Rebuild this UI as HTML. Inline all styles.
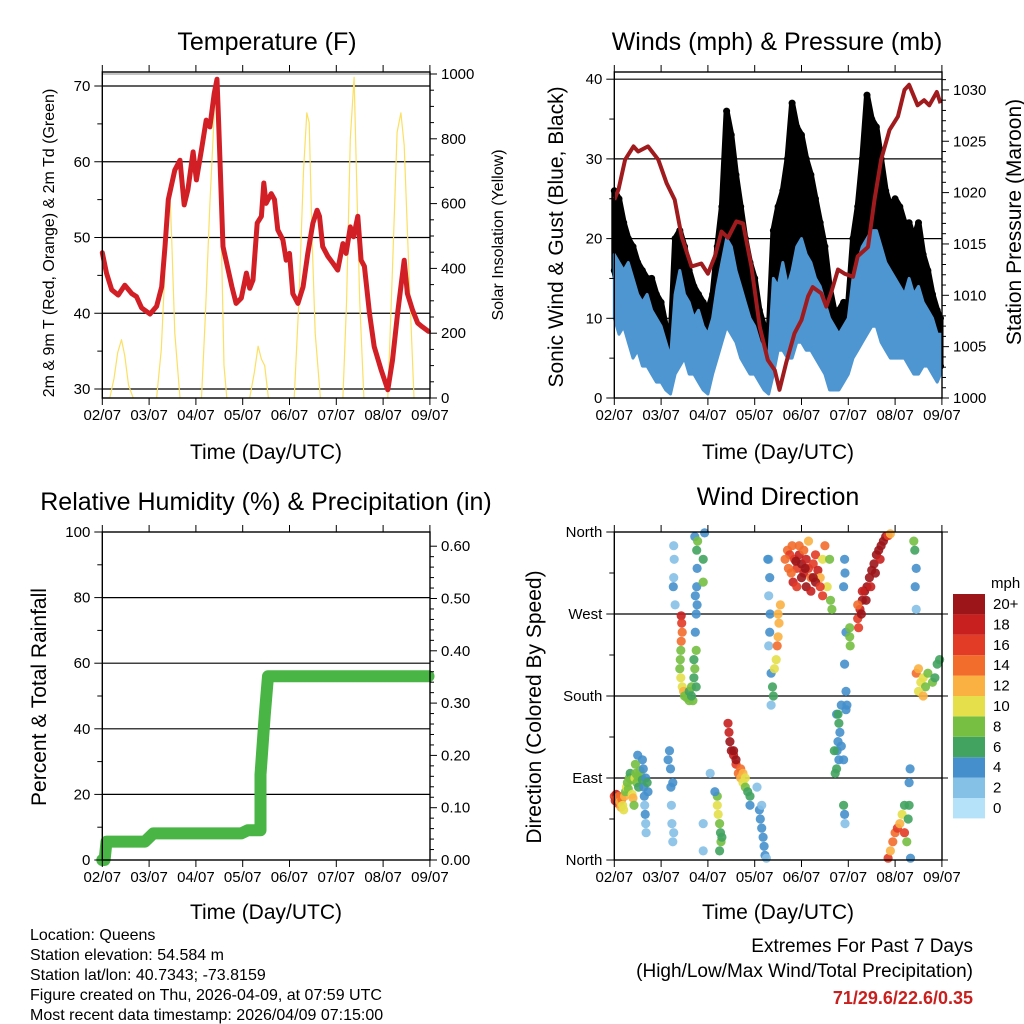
<!DOCTYPE html>
<html><head><meta charset="utf-8"><style>
body{margin:0;background:#fff;}
svg{display:block;font-family:"Liberation Sans",Arial,sans-serif;}
</style></head><body>
<svg id="s" width="1024" height="1024" viewBox="0 0 1024 1024" xmlns="http://www.w3.org/2000/svg">
<rect width="1024" height="1024" fill="#fff"/>
<text x="267" y="50" font-size="25" text-anchor="middle">Temperature (F)</text>
<text x="777" y="50" font-size="25" text-anchor="middle">Winds (mph) &amp; Pressure (mb)</text>
<text x="266" y="510" font-size="25" text-anchor="middle">Relative Humidity (%) &amp; Precipitation (in)</text>
<text x="778" y="505" font-size="25" text-anchor="middle">Wind Direction</text>
<text x="266" y="459" font-size="21" text-anchor="middle">Time (Day/UTC)</text>
<text x="778" y="459" font-size="21" text-anchor="middle">Time (Day/UTC)</text>
<text x="266" y="919" font-size="21" text-anchor="middle">Time (Day/UTC)</text>
<text x="778" y="919" font-size="21" text-anchor="middle">Time (Day/UTC)</text>
<text transform="translate(54,243) rotate(-90)" font-size="16" text-anchor="middle">2m &amp; 9m T (Red, Orange) &amp; 2m Td (Green)</text>
<text transform="translate(503,235) rotate(-90)" font-size="16" text-anchor="middle">Solar Insolation (Yellow)</text>
<text transform="translate(563,237) rotate(-90)" font-size="21" text-anchor="middle">Sonic Wind &amp; Gust (Blue, Black)</text>
<text transform="translate(1021,222) rotate(-90)" font-size="21" text-anchor="middle">Station Pressure (Maroon)</text>
<text transform="translate(46,697) rotate(-90)" font-size="21" text-anchor="middle">Percent &amp; Total Rainfall</text>
<text transform="translate(541,707) rotate(-90)" font-size="21" text-anchor="middle">Direction (Colored By Speed)</text>
<g font-size="16">
<text x="30" y="940">Location: Queens</text>
<text x="30" y="960">Station elevation: 54.584 m</text>
<text x="30" y="980">Station lat/lon: 40.7343; -73.8159</text>
<text x="30" y="1000">Figure created on Thu, 2026-04-09, at 07:59 UTC</text>
<text x="30" y="1020">Most recent data timestamp: 2026/04/09 07:15:00</text>
</g>
<g font-size="19" text-anchor="end">
<text x="973" y="952">Extremes For Past 7 Days</text>
<text x="973" y="977">(High/Low/Max Wind/Total Precipitation)</text>
<text x="973" y="1004" fill="#c8201e" font-weight="bold" font-size="18">71/29.6/22.6/0.35</text>
</g>
<g id="layer"></g>
</svg>
<script>
const days=["02/07","03/07","04/07","05/07","06/07","07/07","08/07","09/07"];
const tempDay=[0,.09,.2,.34,.48,.63,.73,.84,1.02,1.16,1.27,1.34,1.41,1.55,1.66,1.75,1.83,1.94,2.01,2.12,2.22,2.3,2.39,2.45,2.49,2.58,2.69,2.77,2.86,2.97,3.08,3.15,3.22,3.31,3.4,3.45,3.5,3.61,3.68,3.75,3.86,3.93,4.0,4.07,4.18,4.29,4.39,4.5,4.59,4.64,4.71,4.82,4.93,5.03,5.14,5.21,5.3,5.37,5.46,5.53,5.6,5.71,5.81,5.96,6.1,6.2,6.31,6.38,6.45,6.52,6.63,6.74,6.84,6.97];
const tempVal=[48,45.3,43.1,42.4,43.7,42.6,42.2,40.7,39.9,40.9,43.5,48.8,55,58.9,60.2,54.3,56.3,61.3,57.6,61.6,65.5,64.6,69,70.9,64.6,48.8,45.7,43.5,41.3,42,45.3,43.3,44.4,51.9,52.8,57.2,54.5,55.8,55,51,49.7,47,47.9,42.6,41.3,43.5,47.9,51.9,53.6,52.8,48.8,47.5,46.6,45.7,49.2,47.9,51.4,50.1,52.8,47,46.2,40,35.6,32.5,29.9,33.8,40,43.5,47,42.6,40.4,38.7,38.2,37.6];
const solarDay=[0.16,.25,.33,.41,.48,.56,.66, 1.16,1.26,1.34,1.4,1.44,1.48,1.55,1.66, 2.12,2.2,2.3,2.4,2.44,2.47,2.55,2.6,2.66, 3.15,3.25,3.33,3.4,3.47,3.55, 4.1,4.2,4.3,4.37,4.42,4.48,4.55,4.66, 5.14,5.22,5.3,5.38,5.42,5.5,5.59, 6.1,6.2,6.3,6.38,6.45,6.55,6.66];
const solarVal=[0,60,140,180,130,40,0, 0,150,400,560,650,500,200,0, 0,250,600,900,950,800,450,100,0, 0,80,160,120,100,0, 0,300,700,880,850,500,200,0, 0,300,800,990,750,300,0, 0,400,820,880,780,400,0];
const presDay=[0,.09,.23,.41,.51,.72,.94,1.12,1.29,1.44,1.65,1.86,2.0,2.15,2.29,2.43,2.61,2.75,2.93,3.11,3.28,3.43,3.53,3.67,3.85,4.0,4.14,4.24,4.42,4.53,4.63,4.78,4.92,5.1,5.2,5.42,5.56,5.7,5.88,6.06,6.2,6.3,6.48,6.62,6.73,6.89,6.97];
const presVal=[1019.3,1020.3,1023.2,1024.5,1024,1024.5,1023.2,1020.9,1019.3,1015.7,1012.8,1013.1,1012.1,1013.8,1016.2,1015.6,1017.2,1017,1012.8,1006.9,1003.7,1002.7,1000.8,1003.4,1006.3,1007.6,1009.9,1010.8,1010.2,1008.9,1010.2,1012.5,1012.1,1011.8,1013.8,1014.7,1019.3,1023.2,1026.1,1027.4,1030,1030.5,1028.5,1029,1028.5,1029.8,1028.7];
const windDay=[0,.1,.2,.3,.4,.5,.6,.7,.8,.9,1,1.1,1.2,1.3,1.4,1.5,1.6,1.7,1.8,1.9,2,2.1,2.2,2.3,2.4,2.5,2.6,2.7,2.8,2.9,3,3.1,3.2,3.3,3.4,3.5,3.6,3.7,3.8,3.9,4,4.1,4.2,4.3,4.4,4.5,4.6,4.7,4.8,4.9,5,5.1,5.2,5.3,5.4,5.5,5.6,5.7,5.8,5.9,6,6.1,6.2,6.3,6.4,6.5,6.6,6.7,6.8,6.9,6.97];
const windLow=[10,8,9,7,5,6,4,4,3,2,2,1,.5,3,4,5,3,3,2,1,.5,3,5,7,9,8,7,5,4,3,3,2,1,.5,3,6,6,5,5,7,7,6,6,5,4,3,1,1,1,2,3,5,6,7,8,9,9,7,6,5,5,5,5,4,3,3,4,4,3,2,3];
const windHigh=[18,17,16,17,15,13,12,13,11,10,9,7,5,13,16,13,12,10,11,9,8,10,14,17,20,19,16,14,12,10,9,7,6,5,15,14,17,14,16,19,20,18,17,15,14,12,10,9,8,9,10,15,17,19,20,21,21,19,17,16,15,14,13,15,13,14,12,11,10,8,8];
const gustLow=[16,13,12,11,10,8,7,7,6,5,4,3,2,6,9,10,7,6,5,4,3,6,9,12,15,14,12,10,8,6,5,4,3,2,6,10,11,12,13,15,15,13,12,11,9,7,6,6,6,6,6,10,12,14,16,17,17,16,14,13,12,12,12,10,9,9,8,7,6,4,4];
const gustHigh=[26,25,22,20,19,17,16,15,15,13,12,9,7,20,21,19,16,14,13,12,11,13,19,24,36,33,28,24,20,17,15,11,9,8,21,24,26,30,37,34,33,30,28,25,22,19,14,11,11,12,12,20,24,30,38,35,34,30,26,24,25,24,22,22,20,22,18,16,13,11,10];
const precipDay=[0,.05,.09,.91,1.09,2.97,3.11,3.38,3.38,3.38,3.47,3.54,6.97];
const precipVal=[0,0,5.6,5.6,8.1,8.1,9.1,9.1,15,26,44,56,56];
const dirDay=[0,.02,.04,.06,.08,.1,.12,.14,.16,.18,.2,.22,.24,.26,.28,.3,.32,.34,.36,.38,.4,.42,.44,.46,.48,.5,.52,.55,.58,.6,.62,.63,.64,.65,.66,.67,.68,.67,.6,.5,.45,.7,.72,
1.18,1.2,1.21,1.22,1.23,1.25,1.15,1.25,1.27,1.27,1.28,1.27,1.26,1.3,
1.43,1.44,1.45,1.43,1.42,1.41,1.4,1.42,1.45,1.48,1.5,1.55,1.6,1.65,1.7,1.68,1.75,1.72,1.7,1.75,1.73,1.75,1.77,1.76,1.77,1.76,1.72,1.78,1.73,1.6,1.65,1.93,1.9,1.9,
2.43,2.45,2.47,2.5,2.55,2.6,2.65,2.7,2.75,2.8,2.85,2.9,2.9,2.55,2.6,2.7,2.75,2.8,
2.2,2.22,2.25,2.27,2.28,2.25,2.2,2.3,2.15,2.05,1.9,1.9,
3.1,3.12,3.15,3.18,3.2,3.22,3.25,3.15,3.05,
3.3,3.32,3.3,3.33,3.32,3.3,3.35,3.38,3.35,3.4,3.28,
3.5,3.52,3.5,3.48,3.46,3.42,3.55,
3.7,3.75,3.8,3.85,3.9,3.95,4.0,4.05,4.1,4.15,4.2,4.25,4.3,4.35,4.4,4.45,4.5,4.55,4.6,4.62,4.65,3.65,3.72,3.82,3.9,4.0,4.1,4.2,4.3,4.4,3.95,4.05,4.15,4.45,3.78,3.88,4.08,4.25,
4.92,4.93,4.9,4.95,4.92,4.95,4.97,4.95,5.03,5.04,5.03,
4.75,4.8,4.82,4.78,4.76,4.8,4.75,4.72,4.85,4.78,4.85,4.7,4.9,4.92,4.93,4.9,
5.2,5.25,5.3,5.35,5.4,5.45,5.5,5.55,5.6,5.65,5.7,5.75,5.8,5.85,5.9,5.28,5.38,5.48,5.58,5.68,5.2,5.22,5.3,
6.4,6.42,6.45,6.43,6.45,
6.45,6.5,6.55,6.6,6.65,6.7,6.5,6.8,6.85,6.9,6.95,6.6,
5.85,5.9,5.95,6.0,6.05,6.1,6.15,6.2,6.25,6.3,6.32,6.3,6.28,6.33,6.2];
const dirVal=[70,65,72,68,62,70,64,58,67,60,55,70,75,80,85,78,90,95,88,72,68,60,90,95,85,92,80,98,92,88,100,80,70,60,50,40,30,90,110,115,105,85,75,
120,100,80,60,40,20,110,85,30,345,330,310,300,280,
268,260,250,240,230,220,210,200,190,185,180,178,185,190,200,175,190,210,220,230,250,270,280,300,320,340,355,350,290,175,180,359,330,305,
150,140,130,120,115,105,95,90,85,80,75,70,60,120,110,100,95,90,
60,50,40,30,20,10,70,25,75,95,40,10,
55,45,35,25,15,5,2,60,80,
330,310,290,270,250,235,205,190,170,180,330,
270,260,245,235,220,210,280,
340,335,345,330,320,335,325,315,330,320,310,325,335,318,310,330,345,300,330,285,275,330,320,305,300,310,300,295,305,300,345,340,350,290,315,328,320,310,
330,315,300,250,215,185,170,165,245,235,255,
160,150,140,130,120,110,100,95,125,160,170,120,110,50,40,60,
265,275,285,295,300,310,318,325,335,340,345,350,355,356,358,270,285,300,315,330,280,255,295,
350,340,320,300,275,
205,210,195,200,190,205,185,195,200,215,220,180,
2,10,20,30,35,40,50,60,20,60,100,85,45,2,30];
const dirSpd=[16,18,17,14,15,13,12,11,14,10,9,12,8,9,8,7,7,6,8,10,11,7,9,8,7,7,6,7,8,6,4,3,4,2,3,2,2,4,3,4,8,5,4,
4,3,4,2,2,2,4,3,2,2,2,2,3,1,
18,15,14,13,8,8,7,9,10,11,8,7,6,7,6,7,5,7,5,7,3,3,4,4,4,6,4,7,4,7,6,4,6,7,
17,18,19,20,18,16,13,12,10,8,6,6,4,20,20,14,11,9,
9,10,8,6,7,6,7,6,4,2,2,2,
3,4,4,4,4,3,2,2,1,
2,4,2,3,4,2,3,6,2,6,3,
12,12,11,13,10,9,12,
14,15,13,16,15,18,20,17,18,16,14,15,15,18,12,10,13,9,7,8,7,14,13,18,15,20,19,17,20,16,14,13,12,15,13,20,20,20,
4,4,4,3,3,4,3,4,7,7,8,
4,5,4,4,4,4,5,6,4,5,4,6,3,3,2,6,
16,18,20,19,20,20,20,20,20,20,20,20,20,16,12,20,20,18,20,18,14,15,17,
7,5,4,3,2,
14,12,10,9,8,7,10,7,6,5,5,11,
16,12,14,14,16,12,9,6,8,5,4,4,5,4,15];
const spdColors=["#b5e2f8","#85c0e7","#4590cc","#41a35f","#76bf43","#e4df4a","#fbb142","#f26c2b","#e23b26","#c7201f","#9b1519"];
const spdLabels=["0","2","4","6","8","10","12","14","16","18","20+"];

const NS="http://www.w3.org/2000/svg";
const L=document.getElementById('layer');
function mk(tag,at,parent){const e=document.createElementNS(NS,tag);for(const k in at)e.setAttribute(k,at[k]);(parent||L).appendChild(e);return e;}
const X1=d=>102.3+d*46.8, X2=d=>614.3+d*46.8;
const yT=t=>389-(t-30)*7.575, yS=s=>398-s*0.324;
const yW=w=>398-w*7.97, yP=p=>398-(p-1000)*10.27;
const yR=v=>860-v*3.28, yPr=r=>860-r*523;
const yD=d=>860-d*0.9111;

function grid(x0,x1,ys,name){for(const y of ys){const g=mk('line',{x1:x0,x2:x1,y1:y,y2:y,stroke:'#000','stroke-width':1.2});

}}
function vticks(x,vals,yf,dir,len,labels,anchor,name){for(let i=0;i<vals.length;i++){const y=yf(vals[i]);
const t=mk('line',{x1:x,x2:x+dir*len,y1:y,y2:y,stroke:'#000','stroke-width':1});


if(labels){const tx=mk('text',{x:x+dir*(len+4),y:y+5,'font-size':15,'text-anchor':anchor});tx.textContent=labels[i];

}}}
function xaxis(X,top,bot,name){for(let i=0;i<days.length;i++){const x=X(i);
const a=mk('line',{x1:x,x2:x,y1:bot,y2:bot+7,stroke:'#000'});


const b=mk('line',{x1:x,x2:x,y1:top,y2:top-7,stroke:'#000'});


const t=mk('text',{x:x,y:bot+22,'font-size':15,'text-anchor':'middle'});t.textContent=days[i];

}}
function box(x0,y0,x1,y1,name){const r=mk('rect',{x:x0,y:y0,width:x1-x0,height:y1-y0,fill:'none',stroke:'#000','stroke-width':1.4});

}
function poly(xs,ys,X,Y,at,name){const p=xs.map((d,i)=>X(d).toFixed(1)+','+Y(ys[i]).toFixed(1)).join(' ');const e=mk('polyline',Object.assign({points:p,fill:'none'},at));

return e;}
const rng=(a,b,s)=>{const r=[];for(let v=a;v<=b+1e-9;v+=s)r.push(+v.toFixed(3));return r;};

// Panel 1
grid(102.3,430,[30,40,50,60,70].map(yT),'temp-gridline');
const sg=mk('line',{x1:102.3,x2:430,y1:yS(1000),y2:yS(1000),stroke:'#888','stroke-width':1});


(function(){let seg=[];for(let i=0;i<solarDay.length;i++){seg.push(i);if(solarVal[i]===0&&seg.length>1){poly(seg.map(j=>solarDay[j]),seg.map(j=>solarVal[j]),X1,yS,{stroke:'#fbe063','stroke-width':1.2,'stroke-linejoin':'round'},'solar-line');seg=[];}}})();
poly(tempDay,tempVal,X1,yT,{stroke:'#d21f26','stroke-width':5,'stroke-linejoin':'round','stroke-linecap':'round'},'temperature-line');
box(102.3,72,430,398,'temp-plot-frame');
vticks(102.3,[30,40,50,60,70],yT,-1,8,["30","40","50","60","70"],'end','temp-y');
vticks(102.3,[35,45,55,65],yT,-1,5,null,'end','temp-y-minor');
vticks(430,[0,200,400,600,800,1000],yS,1,7,["0","200","400","600","800","1000"],'start','solar-y');
vticks(430,rng(50,950,50).filter(v=>v%200),yS,1,4,null,'start','solar-y-minor');
xaxis(X1,72,398,'temp');

// Panel 2
grid(614.3,942,[10,20,30,40].map(yW),'wind-gridline');
function band(lo,hi,Y,fill,sw,name){const pts=windDay.map((d,i)=>X2(d).toFixed(1)+','+Y(hi[i]).toFixed(1)).concat(windDay.map((d,i)=>[d,i]).reverse().map(([d,i])=>X2(d).toFixed(1)+','+Y(lo[i]).toFixed(1))).join(' ');
const e=mk('polygon',{points:pts,fill:fill,stroke:fill,'stroke-width':sw,'stroke-linejoin':'round'});

}
band(gustLow,gustHigh,yW,'#000',6,'gust-scatter');
for(let i=0;i<windDay.length;i++){for(const v of [gustHigh[i],gustLow[i]]){const c=mk('circle',{cx:X2(windDay[i]).toFixed(1),cy:yW(v).toFixed(1),r:3.5,fill:'#000'});

}}
band(windLow,windHigh,yW,'#4e96d1',3,'wind-band');
poly(presDay,presVal,X2,yP,{stroke:'#a01b1d','stroke-width':4,'stroke-linejoin':'round'},'pressure-line');
box(614.3,72,942,398,'wind-plot-frame');
vticks(614.3,[0,10,20,30,40],yW,-1,8,["0","10","20","30","40"],'end','wind-y');
vticks(614.3,[5,15,25,35],yW,-1,5,null,'end','wind-y-minor');
vticks(942,[1000,1005,1010,1015,1020,1025,1030],yP,1,7,["1000","1005","1010","1015","1020","1025","1030"],'start','pressure-y');
vticks(942,rng(1001,1031,1).filter(v=>v%5),yP,1,4,null,'start','pressure-y-minor');
xaxis(X2,72,398,'wind');

// Panel 3
grid(102.3,430,[20,40,60,80].map(yR),'rh-gridline');
poly(precipDay,precipVal,X1,yR,{stroke:'#48b545','stroke-width':12,'stroke-linejoin':'round','stroke-linecap':'round'},'precipitation-line');
box(102.3,532,430,860,'rh-plot-frame');
vticks(102.3,[0,20,40,60,80,100],yR,-1,8,["0","20","40","60","80","100"],'end','rh-y');
vticks(102.3,[10,30,50,70,90],yR,-1,5,null,'end','rh-y-minor');
vticks(430,[0,.1,.2,.3,.4,.5,.6],yPr,1,7,["0.00","0.10","0.20","0.30","0.40","0.50","0.60"],'start','precip-y');
vticks(430,rng(.02,.58,.02).filter(v=>Math.round(v*100)%10),yPr,1,4,null,'start','precip-y-minor');
xaxis(X1,532,860,'rh');

// Panel 4
grid(614.3,942,[90,180,270].map(yD),'dir-gridline');
const ci=s=>Math.min(10,Math.max(0,Math.round(s/2)));
for(let i=0;i<dirDay.length;i++){const c=mk('circle',{cx:X2(dirDay[i]).toFixed(1),cy:yD(dirVal[i]).toFixed(1),r:4.6,fill:spdColors[ci(dirSpd[i])],'fill-opacity':0.9});

}
box(614.3,532,942,860,'dir-plot-frame');
vticks(614.3,[0,90,180,270,360],yD,-1,8,["North","East","South","West","North"],'end','dir-y');
vticks(614.3,[45,135,225,315],yD,-1,5,null,'end','dir-y-minor');
vticks(942,[0,90,180,270,360],yD,1,6,null,'start','dir-right');
xaxis(X2,532,860,'dir');

// Colorbar
for(let i=0;i<11;i++){const y=594+(10-i)*20.4;
const r=mk('rect',{x:953,y:y,width:32,height:20.4,fill:spdColors[i]});


const t=mk('text',{x:993,y:y+15,'font-size':15});t.textContent=spdLabels[i];

}
const mph=mk('text',{x:991,y:588,'font-size':15});mph.textContent='mph';


</script>
</body></html>
